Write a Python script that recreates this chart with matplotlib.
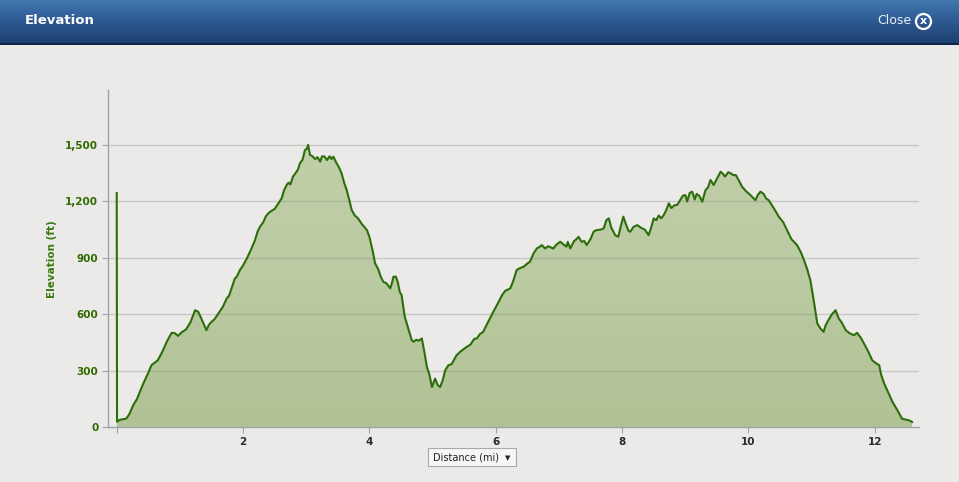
import numpy as np
import matplotlib
matplotlib.use('Agg')
import matplotlib.pyplot as plt
from matplotlib.colors import LinearSegmentedColormap
from matplotlib.patches import Rectangle, Circle
from matplotlib.ticker import FuncFormatter

# ── Data ──────────────────────────────────────────────────────────────────────
distance_mi = [
    0.00, 0.005, 0.05, 0.15, 0.20, 0.26, 0.32, 0.42, 0.50, 0.55, 0.65, 0.72, 0.80, 0.87, 0.92, 0.97,
    1.03, 1.10, 1.17, 1.24, 1.29, 1.35, 1.42, 1.46, 1.50, 1.55, 1.61, 1.68, 1.74, 1.78, 1.82, 1.87,
    1.90, 1.95, 2.00, 2.06, 2.12, 2.19, 2.23, 2.27, 2.32, 2.36, 2.40, 2.45, 2.50, 2.55, 2.61, 2.65,
    2.69, 2.72, 2.75, 2.79, 2.83, 2.87, 2.90, 2.94, 2.98, 3.01, 3.03, 3.06, 3.10, 3.14, 3.18, 3.22,
    3.25, 3.29, 3.33, 3.37, 3.40, 3.43, 3.48, 3.52, 3.56, 3.60, 3.64, 3.68, 3.72, 3.77, 3.82, 3.88,
    3.93, 3.96, 4.00, 4.05, 4.09, 4.14, 4.18, 4.22, 4.27, 4.33, 4.36, 4.38, 4.42, 4.45, 4.48, 4.51,
    4.56, 4.62, 4.67, 4.70, 4.74, 4.78, 4.83, 4.87, 4.91, 4.95, 4.99, 5.04, 5.08, 5.12, 5.16, 5.20,
    5.25, 5.30, 5.38, 5.45, 5.54, 5.60, 5.66, 5.70, 5.75, 5.80, 5.88, 5.96, 6.02, 6.10, 6.15, 6.23,
    6.28, 6.33, 6.38, 6.44, 6.50, 6.54, 6.60, 6.65, 6.70, 6.73, 6.78, 6.83, 6.91, 6.96, 7.02, 7.06,
    7.12, 7.14, 7.18, 7.24, 7.28, 7.31, 7.36, 7.40, 7.44, 7.50, 7.55, 7.60, 7.66, 7.71, 7.75, 7.79,
    7.83, 7.89, 7.94, 7.98, 8.02, 8.06, 8.10, 8.13, 8.18, 8.24, 8.30, 8.36, 8.42, 8.46, 8.50, 8.54,
    8.58, 8.62, 8.66, 8.70, 8.74, 8.78, 8.83, 8.87, 8.92, 8.96, 9.00, 9.03, 9.07, 9.11, 9.15, 9.18,
    9.22, 9.27, 9.32, 9.36, 9.40, 9.45, 9.50, 9.56, 9.60, 9.63, 9.68, 9.72, 9.76, 9.80, 9.85, 9.90,
    9.96, 10.03, 10.07, 10.11, 10.15, 10.19, 10.24, 10.28, 10.32, 10.40, 10.48, 10.55, 10.61, 10.68,
    10.77, 10.83, 10.88, 10.93, 10.98, 11.04, 11.09, 11.14, 11.19, 11.22, 11.25, 11.32, 11.38, 11.43,
    11.48, 11.54, 11.60, 11.67, 11.72, 11.78, 11.83, 11.90, 11.96, 12.02, 12.07, 12.10, 12.15, 12.22,
    12.28, 12.36, 12.43, 12.50, 12.55, 12.59,
]
elevation_ft = [
    1245, 30, 40, 46, 70, 117, 150, 232, 290, 330, 356, 400, 460, 502, 500, 486,
    505, 521, 560, 622, 614, 570, 516, 545, 560, 575, 605, 640, 684, 700, 740, 791,
    800, 835, 860, 897, 940, 995, 1040, 1066, 1090, 1120, 1137, 1150, 1160, 1185, 1216, 1260,
    1287, 1300, 1290, 1332, 1350, 1370, 1403, 1420, 1473, 1480, 1500, 1447, 1440, 1425, 1435, 1411,
    1440, 1438, 1420, 1440, 1425, 1438, 1403, 1380, 1349, 1300, 1261, 1210, 1154, 1125, 1110, 1080,
    1060, 1048, 1012, 940, 871, 840, 800, 773, 765, 738, 770, 800, 800, 770, 720, 702,
    587, 520, 463, 454, 465, 460, 472, 400, 321, 280, 214, 259, 225, 214, 250, 303,
    330, 335, 383, 405, 427, 440, 470, 472, 495, 507, 560, 613, 650, 702, 725, 738,
    780, 835, 845, 853, 870, 879, 925, 950, 960, 968, 950, 962, 950, 970, 986, 975,
    960, 985, 950, 990, 1000, 1012, 985, 990, 968, 1000, 1040, 1048, 1050, 1057, 1100, 1110,
    1060, 1021, 1012, 1070, 1119, 1080, 1045, 1039, 1065, 1074, 1060, 1050, 1021, 1060, 1110, 1100,
    1125, 1110, 1128, 1155, 1190, 1165, 1180, 1181, 1207, 1230, 1234, 1200, 1245, 1252, 1210, 1240,
    1230, 1199, 1260, 1275, 1314, 1287, 1320, 1358, 1345, 1332, 1355, 1349, 1340, 1340, 1310, 1278,
    1255, 1234, 1220, 1207, 1235, 1252, 1240, 1215, 1207, 1165, 1119, 1090, 1048, 1000,
    968, 930, 888, 840, 782, 660, 552, 525, 507, 540, 560, 600, 622, 578,
    555, 516, 500, 489, 502, 475, 445, 400, 356, 340, 330, 280, 232, 180,
    135, 90, 46, 40, 36, 28,
]
y_ticks = [0, 300, 600, 900, 1200, 1500]
x_ticks = [2, 4, 6, 8, 10, 12]

# ── Style ──────────────────────────────────────────────────────────────────────
BG = '#eceae8'
LINE = '#2b6e0b'
YTXT = '#2f6a00'
AXIS = '#9da2aa'
W, H = 959, 482

fig = plt.figure(figsize=(W / 100, H / 100), dpi=100, facecolor=BG)

# ── Header bar ────────────────────────────────────────────────────────────────
hdr = fig.add_axes([0, 1 - 45 / H, 1, 45 / H])
hdr_cmap = LinearSegmentedColormap.from_list('hdr', ['#1c3d6e', '#2c5890', '#4277b0'])
hdr.imshow(np.linspace(0, 1, 100).reshape(-1, 1), cmap=hdr_cmap, aspect='auto',
           origin='lower', extent=[0, W, 0, 45])
hdr.axhline(0.6, color='#0f2646', lw=1.5)
hdr.set_xlim(0, W)
hdr.set_ylim(0, 45)
hdr.axis('off')
hdr.text(25, 24, 'Elevation', color='white', fontsize=9.5, fontweight='bold', va='center', ha='left')
hdr.text(911, 24, 'Close', color='#e8eef6', fontsize=9, va='center', ha='right')
hdr.add_patch(Circle((923.5, 23.5), 7.5, facecolor='none', edgecolor='white', lw=1.6))
hdr.text(923.6, 23.8, 'x', color='white', fontsize=8, fontweight='bold', va='center', ha='center')

# ── Elevation profile ────────────────────────────────────────────────────────
ax = fig.add_axes([108 / W, 1 - 427.3 / H, (919 - 108) / W, (427.3 - 90) / H])
ax.set_facecolor(BG)
xmin, xmax = -0.138, 12.70
ymin, ymax = 0, 1792

for yv in y_ticks[1:]:
    ax.axhline(yv, color='#7f7f7f', alpha=0.3, lw=1, zorder=3)

poly = ax.fill_between(distance_mi, elevation_ft, 0, color='none', lw=0)
fill_cmap = LinearSegmentedColormap.from_list('fill', ['#b1c295', '#bacaa1', '#c1cfa9'])
im = ax.imshow(np.linspace(0, 1, 100).reshape(-1, 1), cmap=fill_cmap, aspect='auto',
               origin='lower', extent=[xmin, xmax, 0, 1500], zorder=2)
im.set_clip_path(poly.get_paths()[0], transform=ax.transData)
ax.plot(distance_mi, elevation_ft, color=LINE, lw=1.5, zorder=4)

ax.set_xlim(xmin, xmax)
ax.set_ylim(ymin, ymax)
for s in ['top', 'right']:
    ax.spines[s].set_visible(False)
for s in ['left', 'bottom']:
    ax.spines[s].set_color(AXIS)
    ax.spines[s].set_linewidth(1)
    ax.spines[s].set_zorder(5)

ax.set_yticks(y_ticks)
ax.yaxis.set_major_formatter(FuncFormatter(lambda v, p: f'{int(v):,}'))
ax.set_xticks([0] + x_ticks)
ax.set_xticklabels([''] + [str(t) for t in x_ticks])
ax.tick_params(axis='y', length=4, color=AXIS, pad=3, labelsize=7.5, labelcolor=YTXT)
ax.tick_params(axis='x', length=4, color=AXIS, pad=3, labelsize=7.5, labelcolor='#2a2a2a')
for lab in ax.get_yticklabels() + ax.get_xticklabels():
    lab.set_fontweight('bold')

ax.set_ylabel('Elevation (ft)', color='#3a7a12', fontsize=7.5, fontweight='bold')
ax.yaxis.set_label_coords(-51 / 811, 0.5)

# ── Distance dropdown ────────────────────────────────────────────────────────
fig.patches.append(Rectangle((428 / W, 1 - 466 / H), 88 / W, 18 / H, transform=fig.transFigure,
                             facecolor='#f6f6f6', edgecolor='#a9a9a9', lw=0.8))
fig.text(433 / W, 1 - 457 / H, 'Distance (mi)', fontsize=7, color='#222222', va='center', ha='left')
fig.text(508 / W, 1 - 458 / H, '▼', fontsize=5, color='#222222', va='center', ha='center')

plt.savefig('out.png', dpi=100, facecolor=BG)
plt.close()
